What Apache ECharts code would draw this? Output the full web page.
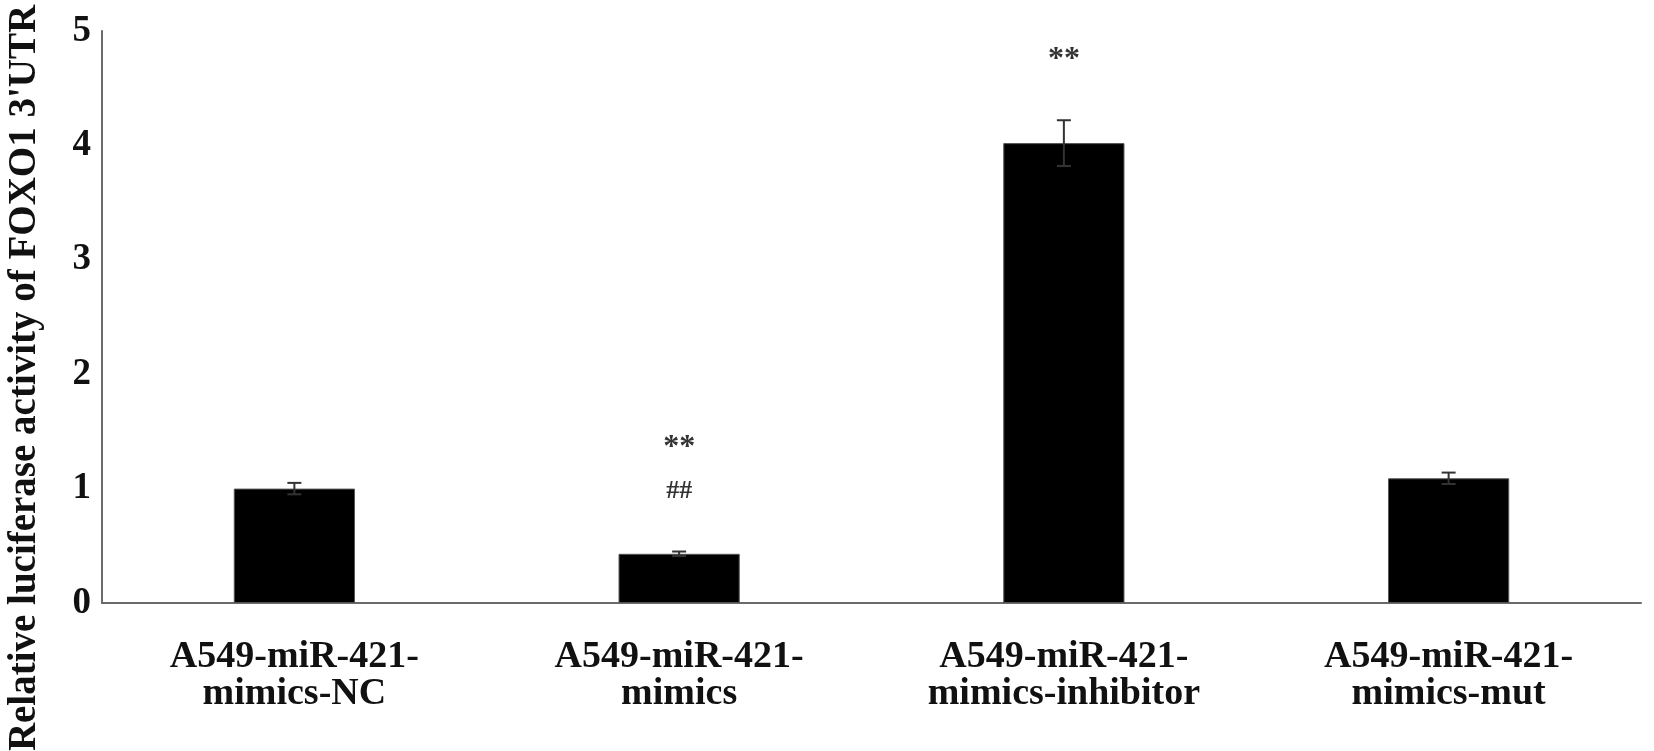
<!DOCTYPE html>
<html>
<head>
<meta charset="utf-8">
<script src="https://cdn.jsdelivr.net/npm/echarts@6/dist/echarts.min.js"></script>
<style>
html,body{margin:0;padding:0;background:#fff;}
#chart{width:1654px;height:751px;}
</style>
</head>
<body>
<div id="chart"></div>
<script>
// ---- data ----
var categories = [
  'A549-miR-421-\nmimics-NC',
  'A549-miR-421-\nmimics',
  'A549-miR-421-\nmimics-inhibitor',
  'A549-miR-421-\nmimics-mut'
];
var means = [1.00, 0.43, 4.02, 1.09];
var errors = [0.05, 0.02, 0.20, 0.05];
var starMarks = ['', '**', '**', ''];
var hashMarks = ['', '##', '', ''];
var yTicks = [0, 1, 2, 3, 4, 5];
var yTitle = "Relative luciferase activity of FOXO1 3'UTR";

var chart = echarts.init(document.getElementById('chart'));
var serif = "'Liberation Serif', 'Times New Roman', serif";

var errData = means.map(function (m, i) { return [i, m - errors[i], m + errors[i]]; });
var annData = means.map(function (m, i) { return [i, m + errors[i], starMarks[i], hashMarks[i]]; });

var option = {
  animation: false,
  backgroundColor: '#ffffff',
  grid: { left: 102, right: 13, top: 31, bottom: 148, containLabel: false },
  xAxis: {
    type: 'category',
    data: categories,
    axisLine: { lineStyle: { color: '#6a6a6a', width: 2 } },
    axisTick: { show: false },
    axisLabel: {
      color: '#111',
      fontFamily: serif,
      fontWeight: 'bold',
      fontSize: 38,
      lineHeight: 37,
      margin: 36,
      interval: 0
    }
  },
  yAxis: {
    type: 'value',
    min: yTicks[0],
    max: yTicks[yTicks.length - 1],
    interval: 1,
    axisLine: { show: true, lineStyle: { color: '#6a6a6a', width: 2 } },
    axisTick: { show: false },
    splitLine: { show: false },
    axisLabel: {
      color: '#111',
      fontFamily: serif,
      fontWeight: 'bold',
      fontSize: 37,
      margin: 11
    }
  },
  graphic: [{
    type: 'text',
    x: 25,
    y: 378,
    rotation: Math.PI / 2,
    style: {
      text: yTitle,
      fill: '#111',
      font: 'bold 39px ' + serif,
      textAlign: 'center',
      textVerticalAlign: 'middle'
    }
  }],
  series: [
    {
      type: 'bar',
      data: means,
      barWidth: '31.5%',
      itemStyle: { color: '#000000', borderColor: '#555', borderWidth: 1 },
      z: 2
    },
    {
      type: 'custom',
      data: errData,
      z: 3,
      renderItem: function (params, api) {
        var lo = api.coord([api.value(0), api.value(1)]);
        var hi = api.coord([api.value(0), api.value(2)]);
        var hw = 7;
        var st = { stroke: '#333', lineWidth: 2 };
        return {
          type: 'group',
          children: [
            { type: 'line', shape: { x1: hi[0], y1: hi[1], x2: lo[0], y2: lo[1] }, style: st },
            { type: 'line', shape: { x1: hi[0] - hw, y1: hi[1], x2: hi[0] + hw, y2: hi[1] }, style: st },
            { type: 'line', shape: { x1: lo[0] - hw, y1: lo[1], x2: lo[0] + hw, y2: lo[1] }, style: st }
          ]
        };
      }
    },
    {
      type: 'custom',
      data: annData,
      z: 4,
      renderItem: function (params, api) {
        var i = params.dataIndex;
        var p = api.coord([api.value(0), api.value(1)]);
        var stars = starMarks[i];
        var hashes = hashMarks[i];
        var children = [];
        var y = p[1];
        if (hashes) {
          y -= 60;
          children.push({ type: 'text', x: p[0], y: y, style: { text: hashes, fill: '#333', font: 'bold 26px ' + serif, textAlign: 'center', textVerticalAlign: 'middle' } });
          if (stars) {
            y -= 50;
          }
        } else if (stars) {
          y -= 66;
        }
        if (stars) {
          children.push({ type: 'text', x: p[0], y: y + 6, style: { text: stars, fill: '#333', font: 'bold 32px ' + serif, textAlign: 'center', textVerticalAlign: 'middle' } });
        }
        return { type: 'group', children: children };
      }
    }
  ]
};
chart.setOption(option);
</script>
</body>
</html>
